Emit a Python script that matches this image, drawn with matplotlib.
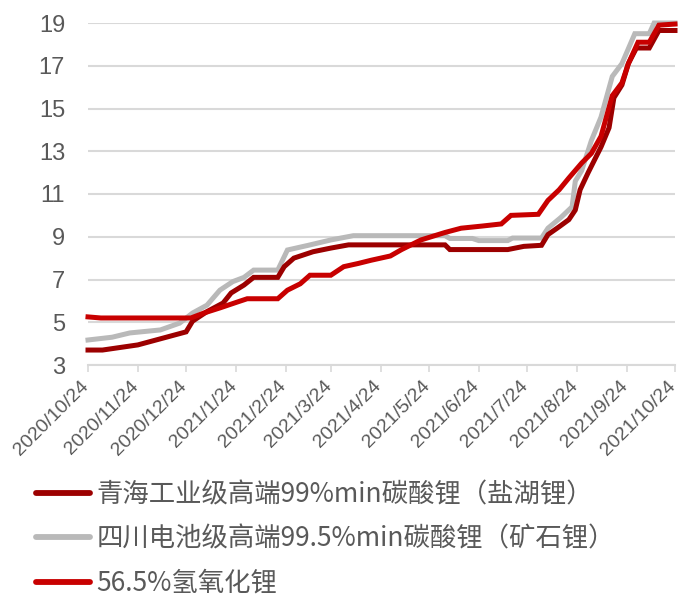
import matplotlib
matplotlib.use("Agg")
import matplotlib.pyplot as plt
import matplotlib.transforms as mtransforms
import pandas as pd

# 价格（万元/吨）
qinghai_dates = ["2020-10-24", "2020-11-02", "2020-11-24", "2020-12-24", "2020-12-28",
                 "2021-01-06", "2021-01-16", "2021-01-21", "2021-01-29", "2021-02-04",
                 "2021-02-19", "2021-02-23", "2021-03-01", "2021-03-13", "2021-03-24",
                 "2021-04-04", "2021-06-03", "2021-06-06", "2021-07-12", "2021-07-22",
                 "2021-08-02", "2021-08-06", "2021-08-13", "2021-08-19", "2021-08-23",
                 "2021-08-26", "2021-08-31", "2021-09-04", "2021-09-08", "2021-09-13",
                 "2021-09-16", "2021-09-21", "2021-09-25", "2021-09-30", "2021-10-08",
                 "2021-10-14", "2021-10-24"]
qinghai_values = [3.70, 3.70, 3.94, 4.55, 5.05,
                  5.50, 5.90, 6.37, 6.74, 7.10,
                  7.10, 7.60, 8.00, 8.30, 8.47,
                  8.62, 8.62, 8.40, 8.40, 8.55,
                  8.60, 9.10, 9.47, 9.80, 10.25,
                  11.20, 12.00, 12.60, 13.20, 14.10,
                  15.50, 16.10, 17.10, 17.83, 17.83,
                  18.65, 18.65]

sichuan_dates = ["2020-10-24", "2020-11-08", "2020-11-19", "2020-12-08", "2020-12-20",
                 "2020-12-28", "2021-01-06", "2021-01-14", "2021-01-22", "2021-01-29",
                 "2021-02-04", "2021-02-19", "2021-02-25", "2021-03-10", "2021-03-24",
                 "2021-04-07", "2021-06-03", "2021-06-06", "2021-06-20", "2021-06-24",
                 "2021-07-12", "2021-07-15", "2021-08-02", "2021-08-06", "2021-08-14",
                 "2021-08-21", "2021-08-23", "2021-08-27", "2021-09-02", "2021-09-08",
                 "2021-09-15", "2021-09-21", "2021-09-29", "2021-10-08", "2021-10-11",
                 "2021-10-24"]
sichuan_values = [4.17, 4.30, 4.50, 4.64, 4.96,
                  5.43, 5.80, 6.50, 6.90, 7.10,
                  7.44, 7.44, 8.38, 8.60, 8.85,
                  9.05, 9.05, 8.92, 8.92, 8.82,
                  8.82, 8.94, 8.94, 9.40, 9.90,
                  10.40, 11.60, 12.10, 13.50, 14.60,
                  16.50, 17.10, 18.50, 18.50, 19.00,
                  19.00]

hydroxide_dates = ["2020-10-24", "2020-11-01", "2020-12-27", "2021-01-04", "2021-01-14",
                   "2021-01-25", "2021-01-31", "2021-02-19", "2021-02-25", "2021-03-05",
                   "2021-03-11", "2021-03-24", "2021-04-01", "2021-04-10", "2021-04-18",
                   "2021-04-24", "2021-04-30", "2021-05-07", "2021-05-19", "2021-06-03",
                   "2021-06-13", "2021-06-26", "2021-07-08", "2021-07-14", "2021-07-31",
                   "2021-08-06", "2021-08-13", "2021-08-19", "2021-08-27", "2021-09-02",
                   "2021-09-08", "2021-09-15", "2021-09-21", "2021-09-25", "2021-10-01",
                   "2021-10-08", "2021-10-14", "2021-10-24"]
hydroxide_values = [5.25, 5.20, 5.20, 5.43, 5.67,
                    5.95, 6.10, 6.10, 6.50, 6.80,
                    7.20, 7.20, 7.60, 7.75, 7.90,
                    8.00, 8.10, 8.40, 8.85, 9.20,
                    9.40, 9.50, 9.60, 10.00, 10.05,
                    10.70, 11.20, 11.75, 12.45, 12.90,
                    13.70, 15.60, 16.20, 17.10, 18.10,
                    18.10, 18.90, 18.95]

series_labels = ["青海工业级高端99%min碳酸锂（盐湖锂）",
                 "四川电池级高端99.5%min碳酸锂（矿石锂）",
                 "56.5%氢氧化锂"]

tick_dates = ["2020-10-24", "2020-11-24", "2020-12-24", "2021-01-24", "2021-02-24",
              "2021-03-24", "2021-04-24", "2021-05-24", "2021-06-24", "2021-07-24",
              "2021-08-24", "2021-09-24", "2021-10-24"]
y_ticks = [3, 5, 7, 9, 11, 13, 15, 17, 19]

plt.rcParams["font.family"] = ["Liberation Sans", "DejaVu Sans"]

fig = plt.figure(figsize=(6.8, 6.01), dpi=100)
ax = fig.add_axes([88 / 680, 1 - 365 / 601, (675 - 88) / 680, (365 - 23) / 601])

colors = ["#9C0000", "#B9B9B9", "#C80000"]
zorders = [3, 2, 4]
data = [(qinghai_dates, qinghai_values),
        (sichuan_dates, sichuan_values),
        (hydroxide_dates, hydroxide_values)]

handles = []
for (d, v), lab, c, z in zip(data, series_labels, colors, zorders):
    ln, = ax.plot(pd.to_datetime(d), v, color=c, lw=3.6, zorder=z,
                  solid_joinstyle="miter", clip_on=False, label=lab)
    handles.append(ln)

ticks = pd.to_datetime(tick_dates)
ax.set_xlim(ticks[0], ticks[-1])
ax.set_ylim(3, 19)
ax.set_yticks(y_ticks)
ax.set_yticklabels([str(t) for t in y_ticks])
ax.set_xticks(ticks)
ax.set_xticklabels([f"{t.year}/{t.month}/{t.day}" for t in ticks])

grid_c = "#D9D9D9"
ax.grid(axis="y", color=grid_c, lw=1.5, zorder=0)
ax.set_axisbelow(True)
for s in ["left", "right", "top"]:
    ax.spines[s].set_visible(False)
ax.spines["bottom"].set_color(grid_c)
ax.spines["bottom"].set_linewidth(1.5)

ax.tick_params(axis="y", length=0, pad=16.5, labelsize=17, labelcolor="#595959")
ax.tick_params(axis="x", length=5, width=1.2, color=grid_c, direction="out",
               labelsize=14, labelcolor="#595959", pad=4)

offset = mtransforms.ScaledTranslation(-8 / 100, 0, fig.dpi_scale_trans)
for lbl in ax.get_xticklabels():
    lbl.set_rotation(45)
    lbl.set_ha("right")
    lbl.set_va("top")
    lbl.set_rotation_mode("anchor")
    lbl.set_transform(lbl.get_transform() + offset)

leg = fig.legend(handles=handles, labels=series_labels, loc="upper left",
                 bbox_to_anchor=(36 / 680, 1 - 481 / 601), frameon=False,
                 prop={"family": ["Noto Sans CJK SC", "DejaVu Sans"], "size": 19},
                 handlelength=2.05, handletextpad=0.25, labelspacing=0.66,
                 borderaxespad=0, borderpad=0)
for t in leg.get_texts():
    t.set_color("#595959")
for h in leg.legend_handles:
    h.set_linewidth(4.2)
    h.set_solid_capstyle("round")

fig.savefig("out.png", dpi=100)
